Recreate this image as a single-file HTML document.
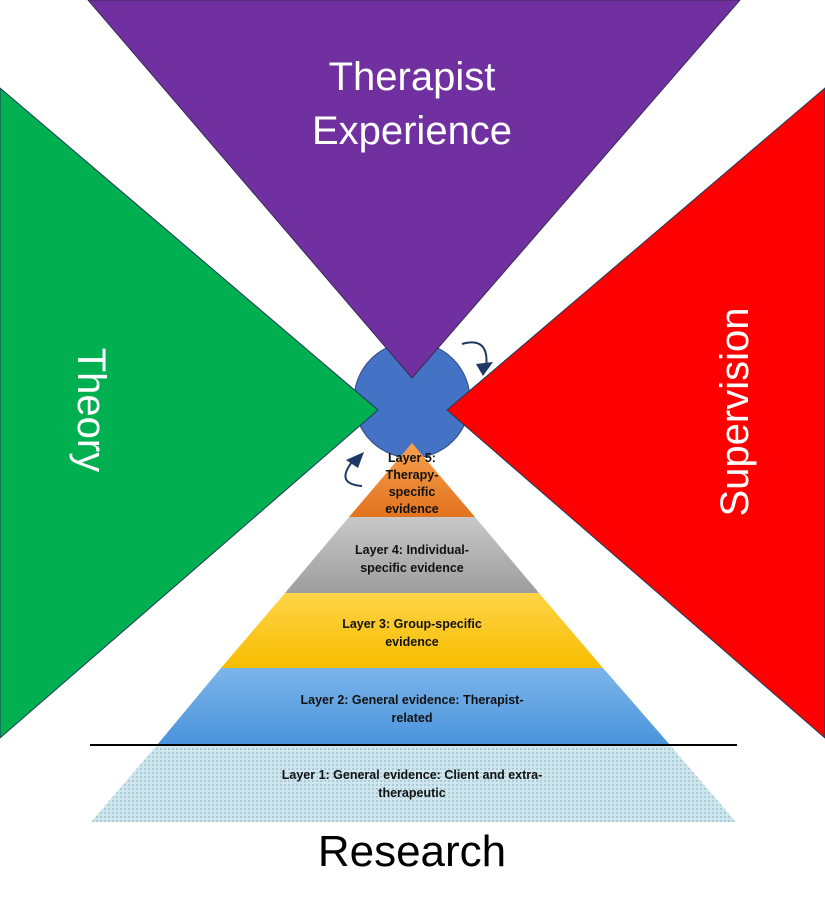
<!DOCTYPE html>
<html><head><style>body{margin:0;background:#fff}svg{display:block}</style></head><body>
<svg width="825" height="903" viewBox="0 0 825 903" xmlns="http://www.w3.org/2000/svg" font-family="Liberation Sans, sans-serif">
<defs>
<pattern id="dots" width="4" height="4" patternUnits="userSpaceOnUse"><rect width="4" height="4" fill="#cfe6ee"/><rect width="2" height="2" fill="#a9cbd8"/></pattern>
<linearGradient id="g5" x1="0" y1="0" x2="0" y2="1"><stop offset="0" stop-color="#f7a04f"/><stop offset="1" stop-color="#e2731d"/></linearGradient>
<linearGradient id="g4" x1="0" y1="0" x2="0" y2="1"><stop offset="0" stop-color="#c8c8c8"/><stop offset="1" stop-color="#9d9d9d"/></linearGradient>
<linearGradient id="g3" x1="0" y1="0" x2="0" y2="1"><stop offset="0" stop-color="#ffd447"/><stop offset="1" stop-color="#f7bd00"/></linearGradient>
<linearGradient id="g2" x1="0" y1="0" x2="0" y2="1"><stop offset="0" stop-color="#7cb5ea"/><stop offset="1" stop-color="#4a93dc"/></linearGradient>
</defs>
<circle cx="412" cy="400" r="58" fill="#4472c4" stroke="#2f4a7a" stroke-width="1"/>
<polygon points="88,0 740,0 412,378" fill="#7030a0" stroke="#3a2a55" stroke-width="1"/>
<polygon points="0,88 378,410 0,738" fill="#00b050" stroke="#1f3a5a" stroke-width="1"/>
<polygon points="825,88 447,410 825,738" fill="#ff0000" stroke="#1f3a5a" stroke-width="1"/>
<polygon points="91,822 736,822 670,745 157,745" fill="url(#dots)"/>
<polygon points="157,745 670,745 603,668 221,668" fill="url(#g2)"/>
<polygon points="221,668 603,668 539,593 285,593" fill="url(#g3)"/>
<polygon points="285,593 539,593 475,517 349,517" fill="url(#g4)"/>
<polygon points="349,517 475,517 412,443" fill="url(#g5)"/>
<line x1="90" y1="745" x2="737" y2="745" stroke="#000" stroke-width="2"/>
<path d="M462,344 Q490,336 486,368" fill="none" stroke="#1f3864" stroke-width="2"/>
<polygon points="476,364 493,362 483,376" fill="#1f3864"/>
<path d="M362,486 Q335,484 352,462" fill="none" stroke="#1f3864" stroke-width="2"/>
<polygon points="346,460 364,452 358,468" fill="#1f3864"/>
<g fill="#fff" font-size="40" text-anchor="middle">
<text x="412" y="90">Therapist</text>
<text x="412" y="144">Experience</text>
<text transform="translate(78,410) rotate(90)" y="0">Theory</text>
<text transform="translate(748,412) rotate(-90)" y="0">Supervision</text>
</g>
<text x="412" y="866" font-size="44" text-anchor="middle" fill="#000">Research</text>
<g font-size="12.5" font-weight="bold" fill="#111" text-anchor="middle">
<text x="412" y="462">Layer 5:</text><text x="412" y="479">Therapy-</text><text x="412" y="496">specific</text><text x="412" y="513">evidence</text>
<text x="412" y="554">Layer 4: Individual-</text><text x="412" y="572">specific evidence</text>
<text x="412" y="628">Layer 3: Group-specific</text><text x="412" y="646">evidence</text>
<text x="412" y="704">Layer 2: General evidence: Therapist-</text><text x="412" y="722">related</text>
<text x="412" y="779">Layer 1: General evidence: Client and extra-</text><text x="412" y="797">therapeutic</text>
</g>
</svg>
</body></html>
